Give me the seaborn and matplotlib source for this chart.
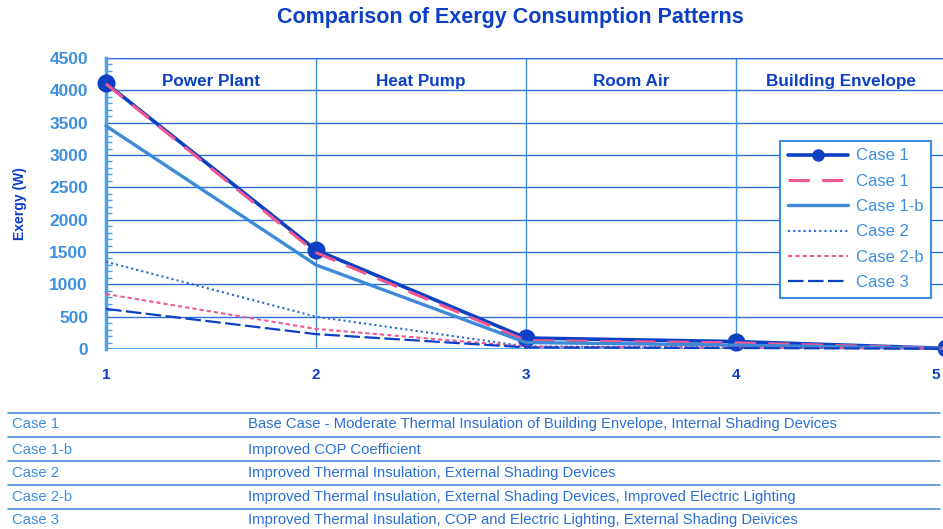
import matplotlib
matplotlib.use("Agg")
import matplotlib.pyplot as plt
import seaborn as sns
import pandas as pd
from matplotlib.lines import Line2D

stages = [1, 2, 3, 4, 5]
stage_names = ["Power Plant", "Heat Pump", "Room Air", "Building Envelope"]
case1 = [4110, 1530, 170, 115, 10]
case1_pink = [4100, 1490, 130, 95, 10]
case1b = [3450, 1300, 100, 60, 5]
case2 = [1350, 500, 40, 25, 5]
case2b = [850, 310, 35, 20, 5]
case3 = [620, 230, 25, 15, 5]
series_labels = ["Case 1", "Case 1", "Case 1-b", "Case 2", "Case 2-b", "Case 3"]
table_cases = ["Case 1", "Case 1-b", "Case 2", "Case 2-b", "Case 3"]
table_desc = [
    "Base Case - Moderate Thermal Insulation of Building Envelope, Internal Shading Devices",
    "Improved COP Coefficient",
    "Improved Thermal Insulation, External Shading Devices",
    "Improved Thermal Insulation, External Shading Devices, Improved Electric Lighting",
    "Improved Thermal Insulation, COP and Electric Lighting, External Shading Deivices",
]

sns.set_theme(style="white")
plt.rcParams['font.family'] = ['Liberation Sans', 'DejaVu Sans']

DARK = "#0b3fc4"
MID = "#3f8ad8"
LIGHT = "#3d8fe0"
PINK = "#f2578f"
GRID = "#2e6fd8"

fig = plt.figure(figsize=(9.43, 5.29), dpi=100)
ax = fig.add_axes([106/943, 1-349/529, (946-106)/943, (349-58)/529])

values = [case1, case1_pink, case1b, case2, case2b, case3]
styles = [
    dict(color=DARK, lw=2.6, ls="-", marker="o", ms=13),
    dict(color=PINK, lw=2.2, ls=(0, (7, 4)), marker=None, ms=0),
    dict(color=MID, lw=2.4, ls="-", marker=None, ms=0),
    dict(color="#2a68d0", lw=1.5, ls=(0, (1, 1.5)), marker=None, ms=0),
    dict(color=PINK, lw=1.5, ls=(0, (2, 1.5)), marker=None, ms=0),
    dict(color=DARK, lw=1.6, ls=(0, (7, 2)), marker=None, ms=0),
]
handles = [None]*6
for i in [2, 3, 4, 5, 0, 1]:
    df = pd.DataFrame({"x": stages, "y": values[i]})
    st = styles[i]
    sns.lineplot(data=df, x="x", y="y", ax=ax, color=st["color"], lw=st["lw"],
                 linestyle=st["ls"], marker=st["marker"] if st["marker"] else None,
                 markersize=st["ms"], markeredgewidth=0, clip_on=False, zorder=3+i)
    handles[i] = Line2D([0], [0], color=st["color"], lw=st["lw"], linestyle=st["ls"],
                        marker=st["marker"] if st["marker"] else None, markersize=9,
                        markeredgewidth=0)

ax.set_xlim(1, 5)
ax.set_ylim(0, 4500)
ax.set_yticks(range(0, 4501, 500))
ax.set_xticks(stages)
ax.set_xticklabels([str(s) for s in stages[:-1]] + [""])
ax.annotate(str(stages[-1]), xy=(stages[-1], 0), xycoords="data", xytext=(-4, -14),
            textcoords="offset points", ha="right", va="top", color=DARK,
            fontsize=11, fontweight="bold", annotation_clip=False)
ax.yaxis.grid(True, color=GRID, lw=1.0)
for xv in [2, 3, 4]:
    ax.axvline(xv, color=LIGHT, lw=1.0, zorder=1)
ax.axhline(4500, color=GRID, lw=1.0)
for s in ["top", "right", "bottom"]:
    ax.spines[s].set_visible(False)
ax.spines["left"].set_color("#4aa0ea")
ax.spines["left"].set_linewidth(2.5)
ax.axhline(0, color="#4aa0ea", lw=2.0, zorder=2)
ax.set_yticks(range(0, 4501, 100), minor=True)
ax.tick_params(axis="y", which="minor", length=4, color="#4aa0ea", width=1, direction="in", left=True)
ax.tick_params(axis="y", which="major", length=0, labelsize=12.5, labelcolor=LIGHT, pad=13)
ax.tick_params(axis="x", length=0, labelsize=11, labelcolor=DARK, pad=14)
for lab in ax.get_yticklabels() + ax.get_xticklabels():
    lab.set_fontweight("bold")
ax.set_xlabel("")
ax.set_ylabel("Exergy (W)", color=DARK, fontsize=10, fontweight="bold", labelpad=16)

for k, name in enumerate(stage_names):
    ax.text(1.5 + k, 4130, name, ha="center", va="center", color=DARK,
            fontsize=12.3, fontweight="bold")

leg = ax.legend(handles, series_labels, loc="upper left", bbox_to_anchor=(674/840, 0.715),
                frameon=True, fancybox=False, fontsize=12, handlelength=3.6,
                labelspacing=0.62, borderpad=0.45, handletextpad=0.5, borderaxespad=0)
leg.get_frame().set_edgecolor("#3d8fe0")
leg.get_frame().set_linewidth(1.5)
leg.get_frame().set_alpha(1)
for t in leg.get_texts():
    t.set_color(LIGHT)

fig.text(510/943, 1-18/529, "Comparison of Exergy Consumption Patterns", ha="center", va="center",
         color=DARK, fontsize=15.5, fontweight="bold")

row_y = [424, 450, 473, 497, 520]
line_y = [413, 437, 461, 485, 509]
for ly in line_y:
    fig.add_artist(Line2D([8/943, 940/943], [1-ly/529, 1-ly/529], color="#4a90e0", lw=1.2))
for ry, c, d in zip(row_y, table_cases, table_desc):
    fig.text(12/943, 1-ry/529, c, ha="left", va="center", color=LIGHT, fontsize=10.7)
    fig.text(248/943, 1-ry/529, d, ha="left", va="center", color="#2a6fd6", fontsize=10.7)

fig.savefig("out.png", dpi=100)
